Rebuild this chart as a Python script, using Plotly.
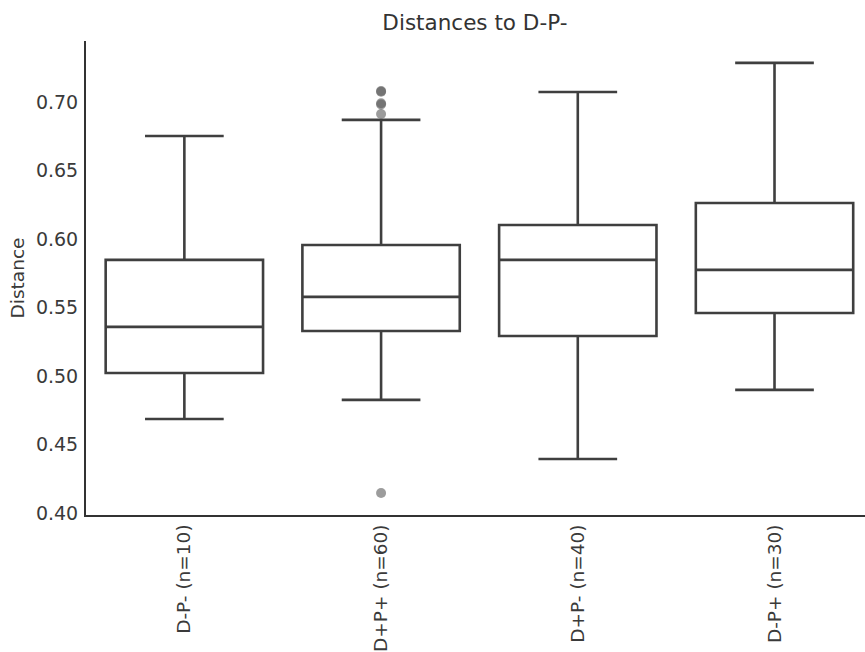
import plotly.graph_objects as go

# Summary statistics per group
groups = ["D-P- (n=10)", "D+P+ (n=60)", "D+P- (n=40)", "D-P+ (n=30)"]
lower_whisker = [0.4686, 0.4825, 0.4394, 0.4898]
q1 = [0.5022, 0.5328, 0.5292, 0.5460]
median = [0.5358, 0.5577, 0.5847, 0.5774]
q3 = [0.5847, 0.5956, 0.6102, 0.6263]
upper_whisker = [0.6752, 0.6869, 0.7073, 0.7285]

# Outlying points (group index, value)
outlier_group = [1, 1, 1, 1, 1, 1]
outlier_value = [0.7080, 0.7075, 0.6990, 0.6982, 0.6912, 0.4146]

positions = list(range(len(groups)))
line_col = "#3f3f3f"

fig = go.Figure()
fig.add_trace(go.Box(
    x=positions,
    q1=q1, median=median, q3=q3,
    lowerfence=lower_whisker, upperfence=upper_whisker,
    width=0.8, whiskerwidth=0.5,
    fillcolor="white",
    line=dict(color=line_col, width=2.6),
    boxpoints=False,
    hoverinfo="skip",
    showlegend=False,
))
fig.add_trace(go.Scatter(
    x=outlier_group, y=outlier_value, mode="markers",
    marker=dict(size=10, color="rgba(90,90,90,0.6)", line=dict(width=0)),
    showlegend=False, hoverinfo="skip",
))

fig.update_layout(
    width=865, height=652,
    margin=dict(l=86, r=0, t=41, b=137),
    paper_bgcolor="white", plot_bgcolor="white",
    font=dict(family="DejaVu Sans", size=19, color="#3a3a3a"),
    title=dict(text="Distances to D-P-", x=0.549, xanchor="center",
               y=0.966, yanchor="middle",
               font=dict(size=21.5, color="#333333")),
)
fig.update_xaxes(
    range=[-0.5, 3.46], tickmode="array", tickvals=positions, ticktext=groups,
    tickangle=-90, showgrid=False, zeroline=False, ticks="", ticklen=0,
    showline=True, linecolor="#333333", linewidth=2,
    tickfont=dict(size=18.5, color="#3a3a3a"),
)
fig.update_yaxes(
    range=[0.3985, 0.7445], tickmode="array",
    tickvals=[0.40, 0.45, 0.50, 0.55, 0.60, 0.65, 0.70],
    tickformat=".2f", showgrid=False, zeroline=False, ticks="", ticklen=0,
    showline=True, linecolor="#333333", linewidth=2,
    ticklabelstandoff=2,
    title=dict(text="Distance", standoff=6, font=dict(size=18.5, color="#3a3a3a")),
    tickfont=dict(size=19, color="#3a3a3a"),
)

fig.write_html("out.html")
